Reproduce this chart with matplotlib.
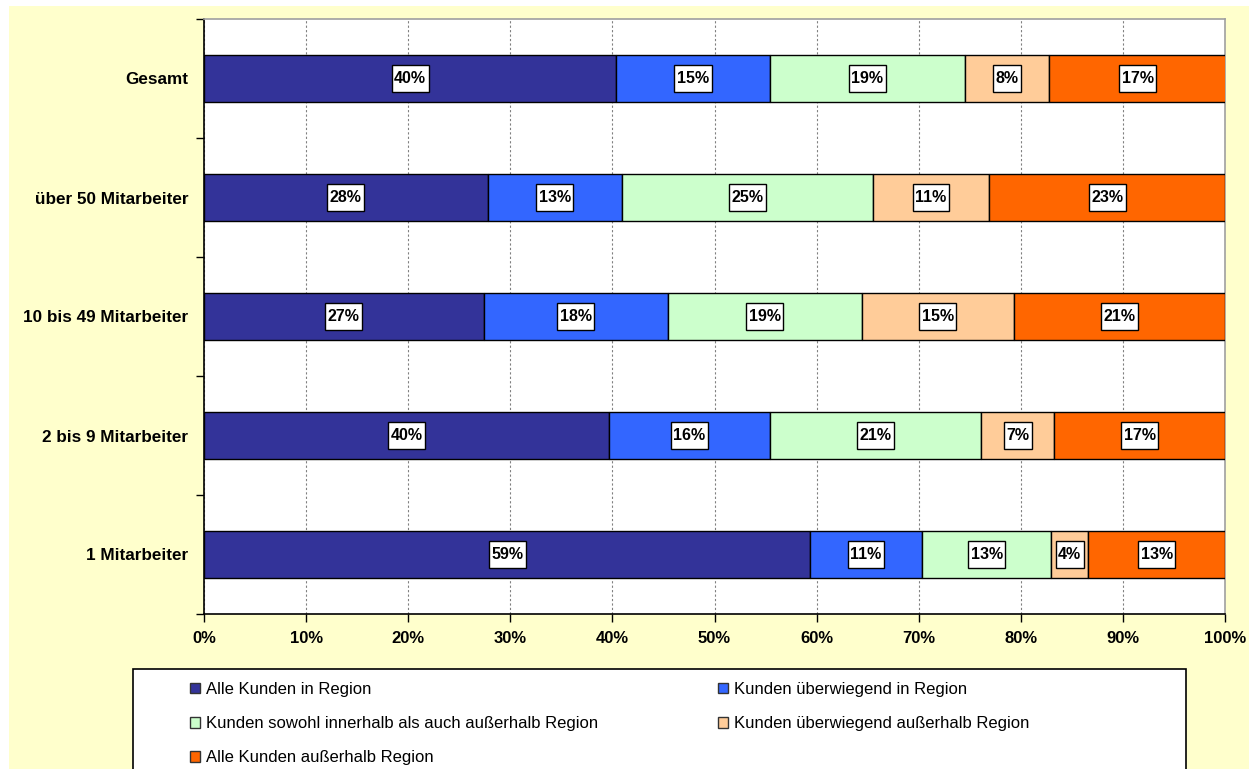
import numpy as np
import matplotlib
matplotlib.use('Agg')
import matplotlib.pyplot as plt
from matplotlib.patches import Rectangle, Patch
from matplotlib.transforms import IdentityTransform

plt.rcParams['font.family'] = ['Liberation Sans', 'DejaVu Sans']

# bottom to top
categories = ['1 Mitarbeiter', '2 bis 9 Mitarbeiter', '10 bis 49 Mitarbeiter',
              'über 50 Mitarbeiter', 'Gesamt']
series_names = ['Alle Kunden in Region',
                'Kunden überwiegend in Region',
                'Kunden sowohl innerhalb als auch außerhalb Region',
                'Kunden überwiegend außerhalb Region',
                'Alle Kunden außerhalb Region']
alle_in = [59.4, 39.7, 27.4, 27.8, 40.4]
ueberw_in = [10.9, 15.7, 18.0, 13.1, 15.0]
sowohl = [12.7, 20.7, 19.0, 24.6, 19.1]
ueberw_aus = [3.6, 7.2, 14.9, 11.4, 8.3]
alle_aus = [13.4, 16.7, 20.7, 23.1, 17.3]
colors = ['#333399', '#3366FF', '#CCFFCC', '#FFCC99', '#FF6600']
xticks = [0, 10, 20, 30, 40, 50, 60, 70, 80, 90, 100]

series = [alle_in, ueberw_in, sowohl, ueberw_aus, alle_aus]

fig = plt.figure(figsize=(12.55, 7.69), dpi=100, facecolor='white')
fig.patches.append(Rectangle((9 / 1255, 0), 1240 / 1255, 1 - 6 / 769,
                             transform=fig.transFigure, facecolor='#FFFFCC',
                             edgecolor='none', zorder=-10))

ax = fig.add_axes([204 / 1255, 1 - 614 / 769, 1021 / 1255, 595 / 769])
ax.set_facecolor('white')

y = np.arange(len(categories))
left = np.zeros(len(categories))
labels = []
for vals, c in zip(series, colors):
    vals = np.array(vals)
    ax.barh(y, vals, left=left, height=0.4, color=c, edgecolor='black',
            linewidth=1.0, zorder=3)
    for yi, l, v in zip(y, left, vals):
        t = ax.text(l + v / 2, yi, f'{round(v)}%', ha='center', va='center',
                    fontsize=11.5, fontweight='bold', zorder=6)
        labels.append(t)
    left = left + vals

ax.set_xlim(0, 100)
ax.set_ylim(-0.5, len(categories) - 0.5)
ax.set_xticks(xticks)
ax.set_xticklabels([f'{t}%' for t in xticks], fontsize=12, fontweight='bold')
ax.tick_params(axis='x', direction='out', length=6, width=1, pad=6)
ax.set_yticks(y)
ax.set_yticklabels(categories, fontsize=12.3, fontweight='bold')
ax.tick_params(axis='y', which='major', length=0, pad=11.5)
ax.set_yticks(np.arange(-0.5, len(categories) + 0.5, 1), minor=True)
ax.tick_params(axis='y', which='minor', direction='out', length=6, width=1)

ax.grid(axis='x', color='#808080', linestyle=(0, (2, 2)), linewidth=0.8, zorder=0)
ax.set_axisbelow(True)
for s in ['left', 'bottom']:
    ax.spines[s].set_color('black')
    ax.spines[s].set_linewidth(1.2)
for s in ['top', 'right']:
    ax.spines[s].set_color('#A0A0A0')
    ax.spines[s].set_linewidth(1.2)

# white boxes behind the data labels (taller than the text, like Excel)
renderer = fig.canvas.get_renderer()
for t in labels:
    bb = t.get_window_extent(renderer)
    cx, cy = (bb.x0 + bb.x1) / 2, (bb.y0 + bb.y1) / 2
    w, h = bb.width + 5, 27
    ax.add_patch(Rectangle((cx - w / 2, cy - h / 2), w, h, transform=IdentityTransform(),
                           facecolor='white', edgecolor='black', linewidth=1, zorder=5))

# legend box
fig.patches.append(Rectangle((133 / 1255, -0.1), 1053 / 1255, 0.1 + 1 - 669 / 769,
                             transform=fig.transFigure, facecolor='white',
                             edgecolor='black', linewidth=1.2, zorder=1))
handles = [Patch(facecolor=c, edgecolor='#333333', linewidth=1) for c in colors]
order = [0, 2, 4, 1, 3]
leg = fig.legend([handles[i] for i in order], [series_names[i] for i in order],
                 ncol=2, loc='upper left', bbox_to_anchor=(190 / 1255, 1 - 682 / 769),
                 frameon=False, fontsize=12, handlelength=0.6, handleheight=0.6,
                 handletextpad=0.35, labelspacing=1.15, columnspacing=7.2,
                 borderpad=0, borderaxespad=0)
leg.set_zorder(2)

fig.savefig('out.png', dpi=100, facecolor=fig.get_facecolor())
